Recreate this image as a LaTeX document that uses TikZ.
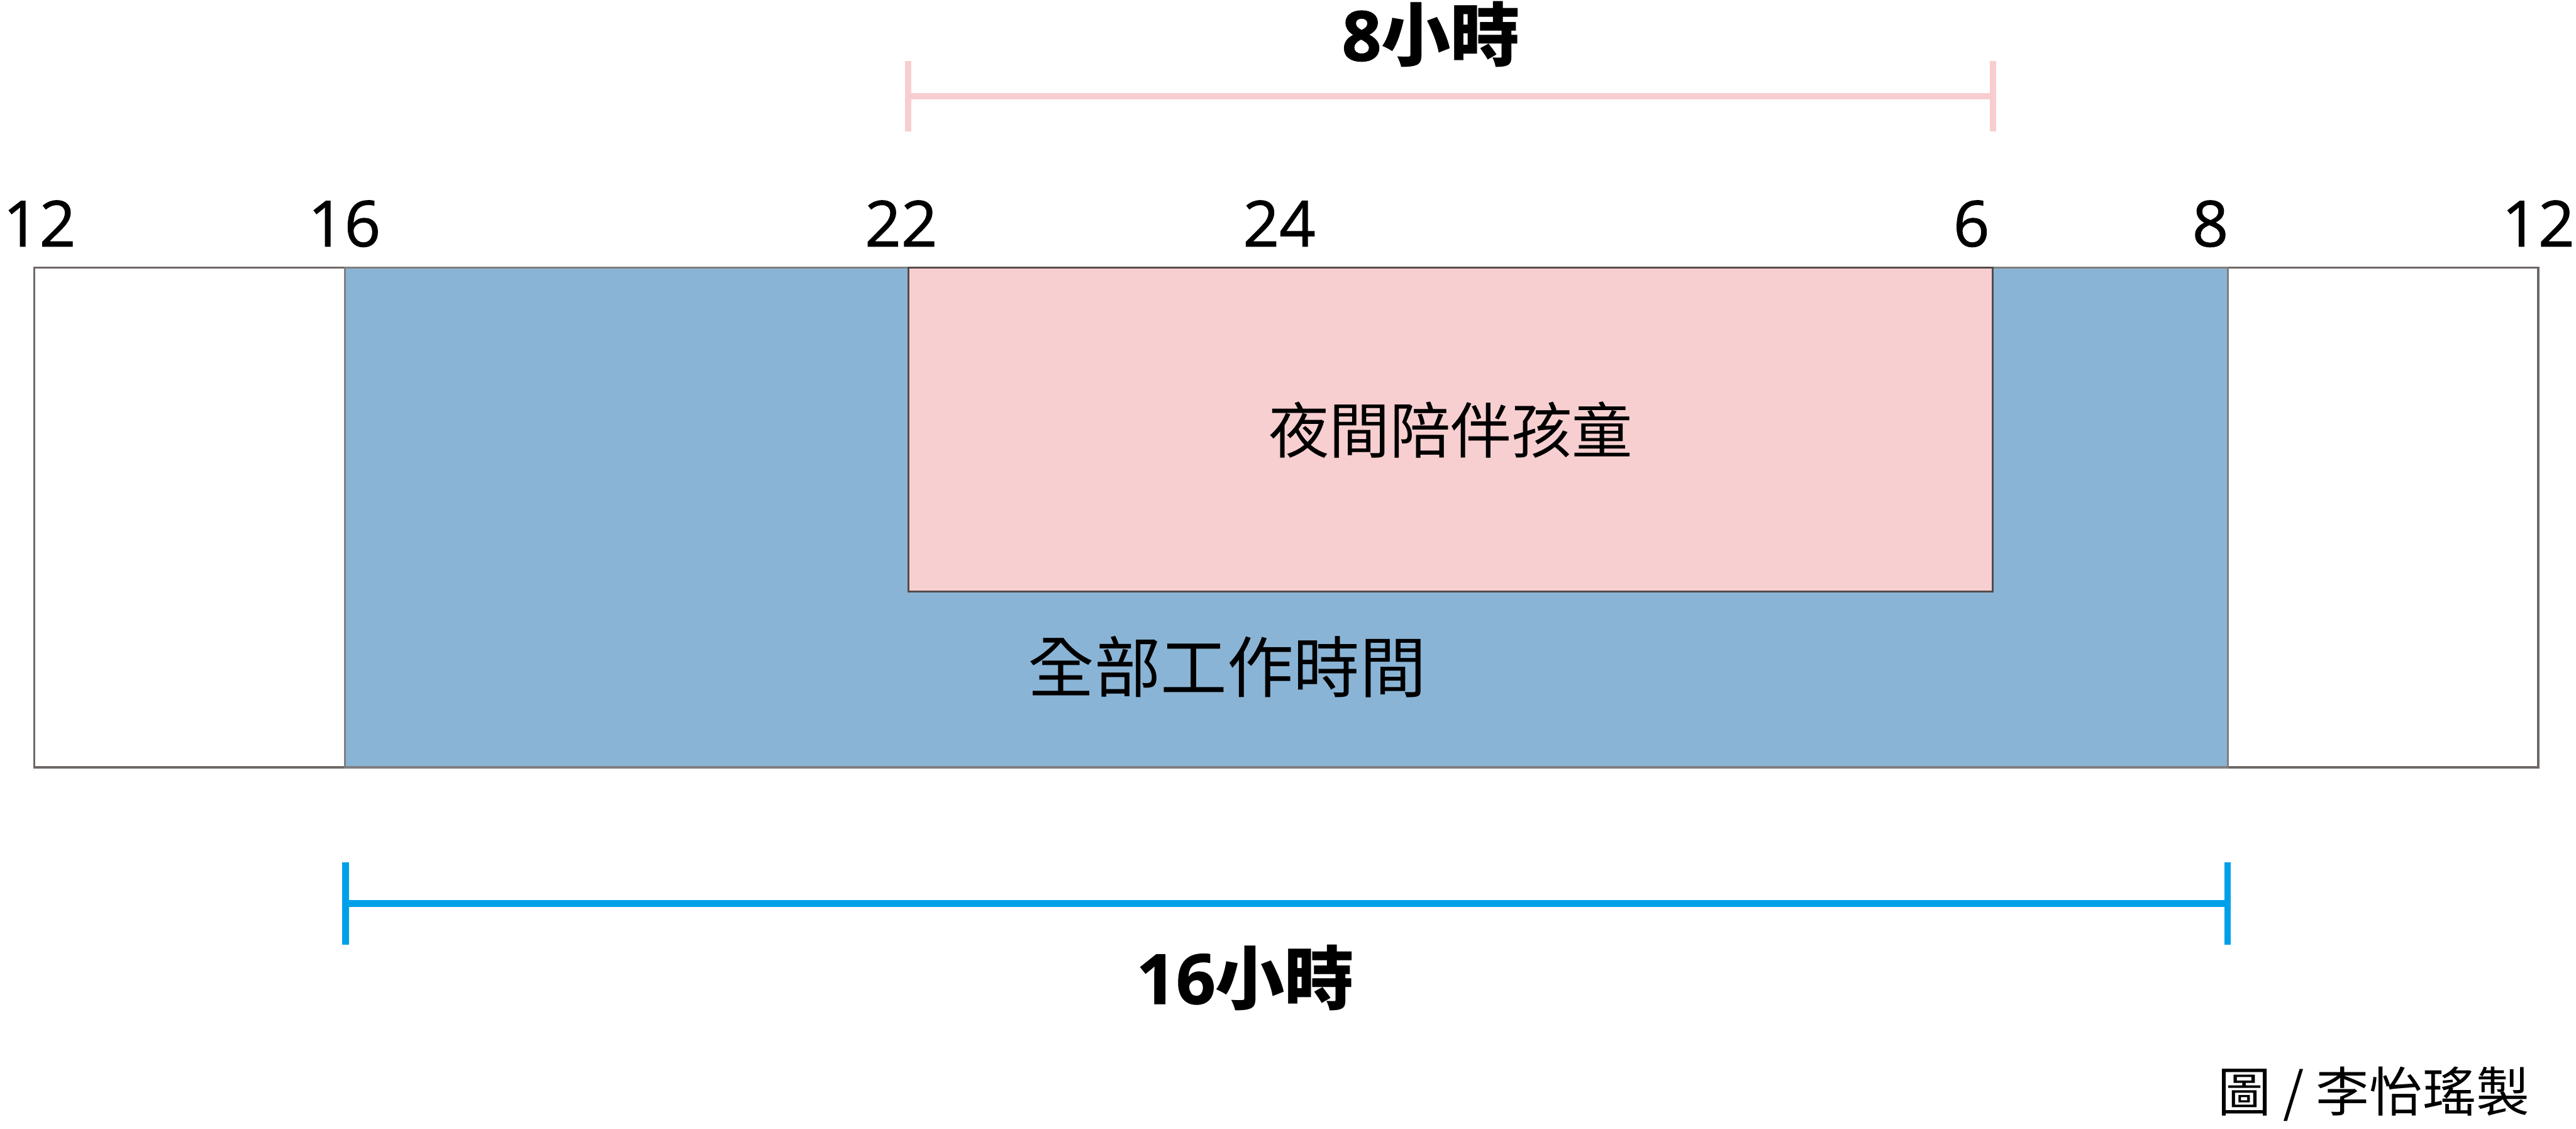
\documentclass[tikz,border=0pt]{standalone}
\usepackage{fontspec}
\newfontfamily\cjk{Noto Sans CJK TC}
\newfontfamily\digitfont[FakeBold=1]{Open Sans}
\usetikzlibrary{arrows.meta,fit}

\definecolor{slotgray}{HTML}{6E6866}
\definecolor{workgray}{HTML}{7F7E80}
\definecolor{nightgray}{HTML}{544B4C}
\definecolor{workblue}{HTML}{8AB4D5}
\definecolor{nightpink}{HTML}{F7CFD0}
\definecolor{spanpink}{HTML}{F8CDD0}
\definecolor{spanblue}{HTML}{00A0E9}

\begin{document}
\begin{tikzpicture}[
                    x=0.04cm, y=-0.04cm,
                    every node/.style={inner sep=0pt, outer sep=0pt},
                    slot/.style={draw=slotgray, line width=1.4pt, fill=white},
                    workslot/.style={draw=workgray, line width=1.4pt, fill=workblue},
                    nightslot/.style={draw=nightgray, line width=1.4pt, fill=nightpink},
                    hour/.style={anchor=base, font=\digitfont\fontsize{44}{44}\selectfont},
                    span/.style={line width=4.4pt},
                    spanlabel/.style={anchor=base, font=\cjk\bfseries\fontsize{48}{48}\selectfont},
                    blocklabel/.style={font=\cjk\fontsize{42}{42}\selectfont}
                  ]
  \useasboundingbox (0,0) rectangle (1568,687);

  % the day, the working hours and the night hours
  \node[slot, fit={(21,163) (1545,467)}] (day) {};
  \node[workslot, fit={(210,163) (1356,467)}] (work) {};
  \node[nightslot, fit={(553,163) (1213,360)}] (night) {};

  \node[blocklabel] (nightname) at (night.center) {夜間陪伴孩童};
  \node[blocklabel, font=\cjk\fontsize{46}{46}\selectfont] (workname) at (747,406) {全部工作時間};

  % clock hours above the bar
  \foreach \x/\t [count=\i] in {24/12, 209.6/16, 548.5/22, 778.7/24, 1200/6, 1345.4/8, 1545/12}
    \node[hour] (hour\i) at (\x,150) {\t};

  % spans
  \coordinate (nightstart) at (551,58.5);
  \coordinate (nightend) at (1215,58.5);
  \draw[span, draw=spanpink, {Bar[width=49pt]}-{Bar[width=49pt]}] (nightstart) -- (nightend);
  \node[spanlabel] (nightlen) at (871,37) {{\digitfont 8}小時};

  \coordinate (workstart) at (208.4,550);
  \coordinate (workend) at (1358,550);
  \draw[span, draw=spanblue, line width=4.6pt, {Bar[width=57pt]}-{Bar[width=57pt]}] (workstart) -- (workend);
  \node[spanlabel] (worklen) at (758,611) {{\digitfont 16}小時};

  \node[font=\cjk\fontsize{37}{37}\selectfont] (credit) at (1445,666) {圖 / 李怡瑤製};
\end{tikzpicture}
\end{document}
